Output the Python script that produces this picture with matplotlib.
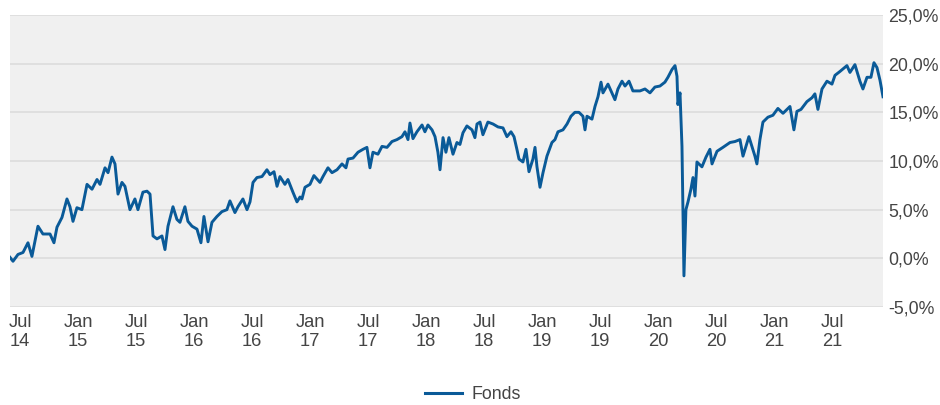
import matplotlib
matplotlib.use("Agg")
import matplotlib.pyplot as plt
from matplotlib.lines import Line2D

# Time as decimal years, values in percent
t = [2014.414, 2014.440, 2014.483, 2014.526, 2014.569, 2014.603, 2014.655, 2014.698, 2014.759, 2014.793,
     2014.819, 2014.862, 2014.905, 2014.931, 2014.957, 2014.991, 2015.034, 2015.078, 2015.121, 2015.164,
     2015.190, 2015.233, 2015.259, 2015.293, 2015.319, 2015.345, 2015.379, 2015.405, 2015.448, 2015.491,
     2015.517, 2015.560, 2015.595, 2015.621, 2015.647, 2015.681, 2015.724, 2015.750, 2015.776, 2015.819,
     2015.853, 2015.879, 2015.922, 2015.948, 2015.983, 2016.026, 2016.060, 2016.086, 2016.121, 2016.155,
     2016.198, 2016.241, 2016.284, 2016.310, 2016.353, 2016.379, 2016.422, 2016.457, 2016.483, 2016.509,
     2016.543, 2016.586, 2016.629, 2016.655, 2016.690, 2016.716, 2016.741, 2016.784, 2016.810, 2016.853,
     2016.888, 2016.914, 2016.931, 2016.957, 2017.000, 2017.034, 2017.086, 2017.112, 2017.155, 2017.190,
     2017.233, 2017.276, 2017.310, 2017.328, 2017.371, 2017.414, 2017.457, 2017.491, 2017.517, 2017.543,
     2017.586, 2017.621, 2017.664, 2017.707, 2017.750, 2017.793, 2017.819, 2017.845, 2017.862, 2017.888,
     2017.922, 2017.966, 2017.991, 2018.017, 2018.052, 2018.078, 2018.103, 2018.121, 2018.147, 2018.172,
     2018.198, 2018.233, 2018.267, 2018.293, 2018.319, 2018.353, 2018.397, 2018.422, 2018.440, 2018.466,
     2018.491, 2018.534, 2018.578, 2018.621, 2018.664, 2018.698, 2018.733, 2018.759, 2018.784, 2018.802,
     2018.836, 2018.862, 2018.888, 2018.922, 2018.940, 2018.957, 2018.983, 2019.009, 2019.043, 2019.086,
     2019.112, 2019.138, 2019.181, 2019.216, 2019.250, 2019.284, 2019.319, 2019.353, 2019.371, 2019.388,
     2019.431, 2019.457, 2019.483, 2019.509, 2019.526, 2019.569, 2019.595, 2019.629, 2019.655, 2019.690,
     2019.716, 2019.750, 2019.784, 2019.845, 2019.888, 2019.931, 2019.974, 2020.017, 2020.060, 2020.086,
     2020.121, 2020.147, 2020.164, 2020.172, 2020.190, 2020.207, 2020.216, 2020.224, 2020.241, 2020.259,
     2020.284, 2020.302, 2020.319, 2020.336, 2020.379, 2020.414, 2020.448, 2020.466, 2020.509, 2020.560,
     2020.621, 2020.664, 2020.707, 2020.733, 2020.784, 2020.836, 2020.853, 2020.879, 2020.905, 2020.948,
     2020.991, 2021.034, 2021.078, 2021.112, 2021.138, 2021.172, 2021.198, 2021.233, 2021.284, 2021.328,
     2021.353, 2021.379, 2021.414, 2021.457, 2021.500, 2021.526, 2021.569, 2021.629, 2021.655, 2021.698,
     2021.741, 2021.767, 2021.802, 2021.836, 2021.862, 2021.888, 2021.914, 2021.940]

fonds = [0.1, -0.3, 0.4, 0.6, 1.6, 0.2, 3.3, 2.5, 2.5, 1.6,
         3.2, 4.2, 6.1, 5.3, 3.8, 5.2, 5.0, 7.6, 7.1, 8.1,
         7.6, 9.3, 8.8, 10.4, 9.7, 6.6, 7.8, 7.4, 5.0, 6.1,
         5.0, 6.8, 6.9, 6.6, 2.3, 2.0, 2.3, 0.9, 3.3, 5.3,
         4.0, 3.7, 5.3, 3.8, 3.3, 3.0, 1.6, 4.3, 1.7, 3.7,
         4.3, 4.8, 5.0, 5.9, 4.7, 5.3, 6.1, 5.0, 5.8, 7.8,
         8.3, 8.4, 9.1, 8.6, 8.9, 7.4, 8.4, 7.6, 8.1, 6.8,
         5.8, 6.3, 6.1, 7.3, 7.6, 8.5, 7.8, 8.4, 9.3, 8.8,
         9.1, 9.7, 9.3, 10.2, 10.3, 10.9, 11.2, 11.4, 9.3, 10.9,
         10.7, 11.5, 11.4, 12.0, 12.2, 12.5, 13.0, 12.2, 13.9, 12.3,
         13.0, 13.7, 13.0, 13.7, 13.2, 12.5, 10.9, 9.1, 12.4, 10.9,
         12.4, 10.7, 11.9, 11.7, 12.9, 13.6, 13.2, 12.4, 13.8, 14.0,
         12.7, 14.0, 13.8, 13.5, 13.4, 12.5, 13.0, 12.5, 11.2, 10.2,
         9.9, 11.2, 8.9, 10.2, 11.4, 9.4, 7.3, 8.8, 10.5, 11.9,
         12.2, 13.0, 13.2, 13.8, 14.6, 15.0, 15.0, 14.6, 13.2, 14.6,
         14.3, 15.6, 16.6, 18.1, 17.0, 17.9, 17.2, 16.3, 17.4, 18.2,
         17.7, 18.2, 17.2, 17.2, 17.4, 17.0, 17.6, 17.7, 18.1, 18.6,
         19.4, 19.8, 18.7, 15.8, 17.0, 11.5, 4.7, -1.8, 5.0, 5.8,
         7.1, 8.3, 6.4, 9.9, 9.4, 10.4, 11.2, 9.7, 11.0, 11.4,
         11.9, 12.0, 12.2, 10.5, 12.5, 10.5, 9.7, 12.2, 14.0, 14.5,
         14.7, 15.4, 14.9, 15.3, 15.6, 13.2, 15.1, 15.3, 16.1, 16.5,
         16.9, 15.3, 17.4, 18.2, 17.9, 18.8, 19.2, 19.8, 19.1, 19.9,
         18.2, 17.4, 18.6, 18.6, 20.1, 19.6, 18.3, 16.6]

xtick_pos = [2014.5, 2015.0, 2015.5, 2016.0, 2016.5, 2017.0, 2017.5, 2018.0,
             2018.5, 2019.0, 2019.5, 2020.0, 2020.5, 2021.0, 2021.5]
xtick_labels = ["Jul\n14", "Jan\n15", "Jul\n15", "Jan\n16", "Jul\n16", "Jan\n17", "Jul\n17", "Jan\n18",
                "Jul\n18", "Jan\n19", "Jul\n19", "Jan\n20", "Jul\n20", "Jan\n21", "Jul\n21"]
ytick_pos = [-5, 0, 5, 10, 15, 20, 25]
ytick_labels = ["-5,0%", "0,0%", "5,0%", "10,0%", "15,0%", "20,0%", "25,0%"]
series_name = "Fonds"

LINE = "#0a5a98"
TXT = "#444444"

plt.rcParams['font.family'] = ['Liberation Sans', 'DejaVu Sans']

fig = plt.figure(figsize=(9.4, 4.05), dpi=100)
ax = fig.add_axes([10/940, 1-307/405, 873/940, 292/405])
ax.set_facecolor("#f0f0f0")
ax.plot(t, fonds, color=LINE, lw=2.1, solid_joinstyle='round')
ax.set_xlim(t[0], t[-1])
ax.set_ylim(-5, 25)
ax.set_yticks(ytick_pos)
ax.set_yticklabels(ytick_labels)
ax.set_xticks(xtick_pos)
ax.set_xticklabels(xtick_labels)
ax.yaxis.tick_right()
ax.tick_params(axis='y', length=0, labelsize=12.8, labelcolor=TXT, pad=4)
ax.tick_params(axis='x', length=0, labelsize=13.2, labelcolor=TXT, pad=5)
for lbl in ax.get_xticklabels():
    lbl.set_linespacing(1.12)
ax.grid(axis='y', color="#dedede", lw=1.3)
ax.set_axisbelow(True)
for s in ax.spines.values():
    s.set_visible(False)

handle = Line2D([], [], color=LINE, lw=2.2)
fig.legend([handle], [series_name], loc='center', bbox_to_anchor=(0.503, 0.026),
           frameon=False, fontsize=12.8, handlelength=2.1, handletextpad=0.5,
           labelcolor=TXT)

fig.savefig("out.png", dpi=100)
